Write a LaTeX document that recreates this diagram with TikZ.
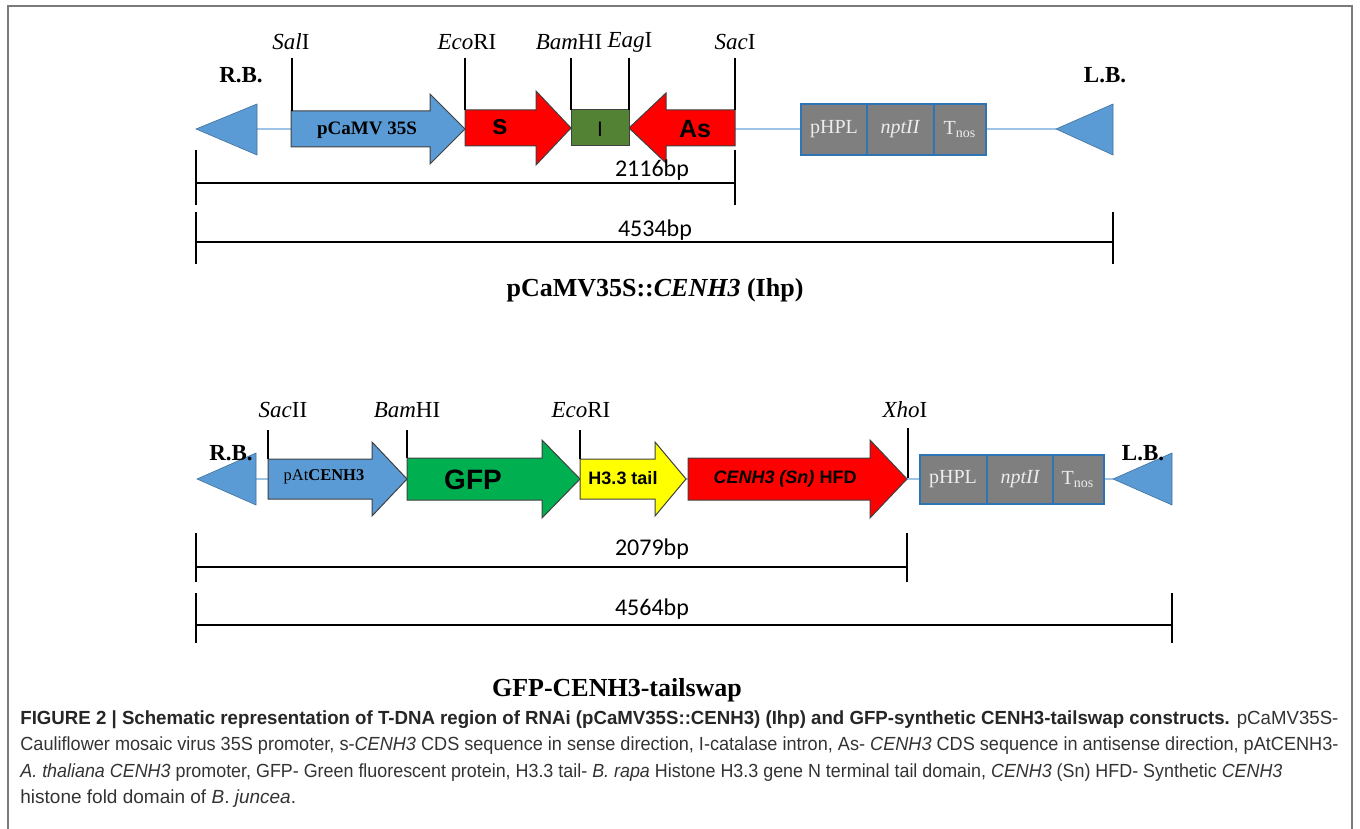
\documentclass[tikz,border=0pt]{standalone}
\usepackage{fontspec}
\usepackage{graphicx}
\setmainfont{Liberation Serif}
\setsansfont{Liberation Sans}
\newfontfamily\calib{Carlito}
\definecolor{tblue}{HTML}{5B9BD5}
\definecolor{tblueD}{HTML}{41719C}
\definecolor{bbone}{HTML}{9DC3E6}
\definecolor{tred}{HTML}{FF0000}
\definecolor{igreen}{HTML}{548235}
\definecolor{ggreen}{HTML}{00B050}
\definecolor{tyellow}{HTML}{FFFF00}
\definecolor{gfill}{HTML}{7F7F7F}
\definecolor{gborder}{HTML}{2E75B6}
\definecolor{captxt}{HTML}{333333}
\definecolor{framec}{HTML}{7A7A7A}
\newsavebox\capbox
\newcommand\fitline[2]{\sbox\capbox{#2}\ifdim\wd\capbox>#1\relax\resizebox{#1}{\ht\capbox}{\usebox\capbox}\else\makebox[#1][s]{#2}\fi}
\newcommand\rarrow[7]{\filldraw[#7] (#1,{#4-#5}) -- (#2,{#4-#5}) -- (#2,{#4-#6}) -- (#3,#4) -- (#2,{#4+#6}) -- (#2,{#4+#5}) -- (#1,{#4+#5}) -- cycle;}
\tikzset{
  site/.style={inner sep=0pt, font=\fontsize{11.5}{13}\selectfont},
  border/.style={inner sep=0pt, font=\fontsize{11.5}{13}\selectfont\bfseries},
  ticktick/.style={line width=1pt, black},
  barline/.style={line width=1pt, black},
  bplabel/.style={inner sep=0pt, font=\fontsize{12}{14}\selectfont\calib},
  ctitle/.style={inner sep=0pt, font=\fontsize{13}{15}\selectfont\bfseries},
  backbone/.style={line width=0.7pt, bbone},
  tri/.style={fill=tblue, draw=tblueD, line width=0.3pt},
  bluearr/.style={fill=tblue, draw=black!75, line width=0.5pt},
  redarr/.style={fill=tred, draw=black!75, line width=0.5pt},
  greenarr/.style={fill=ggreen, draw=black!75, line width=0.5pt},
  yellarr/.style={fill=tyellow, draw=black!75, line width=0.5pt},
  gbox/.style={fill=gfill, draw=gborder, line width=0.7pt},
  gtext/.style={inner sep=0pt, text=white!93!black, font=\fontsize{10}{12}\selectfont},
  inarrow/.style={inner sep=0pt, font=\fontsize{12.5}{14}\selectfont\sffamily\bfseries},
  capline/.style={inner sep=0pt, anchor=base west, text=captxt, font=\fontsize{9.5}{11}\selectfont\sffamily},
}
\begin{document}
\begin{tikzpicture}[x=0.5pt,y=-0.5pt]
\useasboundingbox (0,0) rectangle (1360,829);
% frame
\draw[framec, line width=1pt] (8,829) -- (8,6) -- (1352,6) -- (1352,829);

% ================= top construct =================
\draw[backbone] (257,129) -- (1056,129);
\fill[tri] (196,129) -- (257,104) -- (257,155) -- cycle;
\fill[tri] (1056,129) -- (1113,104) -- (1113,155) -- cycle;
\rarrow{291}{430}{465}{129}{18}{35}{bluearr}
\rarrow{465}{536}{571}{128}{18}{37}{redarr}
\filldraw[fill=igreen, draw=black!75, line width=0.5pt] (571,110) rectangle (629,146);
\rarrow{735}{666}{629}{128}{18}{35}{redarr}
\node[inner sep=0pt, font=\fontsize{9.5}{11}\selectfont\bfseries] (t35s) at (367,130) {pCaMV 35S};
\node[inner sep=0pt, font=\fontsize{14}{16}\selectfont\sffamily\bfseries] (ts) at (500,127) {s};
\node[inner sep=0pt, font=\fontsize{10.5}{12}\selectfont\sffamily] (tI) at (600,129) {I};
\node[inarrow] (tAs) at (695,129) {As};
% selectable marker boxes
\draw[gbox] (801,104) rectangle (867,155);
\draw[gbox] (867,104) rectangle (934,155);
\draw[gbox] (934,104) rectangle (986,155);
\node[gtext] (tp1) at (834,129) {pHPL};
\node[gtext] (tn1) at (900,129) {\itshape nptII};
\node[gtext] (tt1) at (960,130) {T\textsubscript{nos}};
% sites
\node[site] (sal) at (291,42) {\itshape Sal\upshape I};
\node[site] (eco1) at (467,42) {\itshape Eco\upshape RI};
\node[site] (bam1) at (569,42) {\itshape Bam\upshape HI};
\node[site] (eag) at (630,42) {\itshape Eag\upshape I};
\node[site] (sac) at (735,42) {\itshape Sac\upshape I};
\draw[ticktick] (292,58) -- (292,111);
\draw[ticktick] (465,58) -- (465,110);
\draw[ticktick] (571,58) -- (571,110);
\draw[ticktick] (629,58) -- (629,110);
\draw[ticktick] (735,58) -- (735,110);
\node[border] (rb1) at (241,75) {R.B.};
\node[border] (lb1) at (1105,75) {L.B.};
% scale bars
\draw[barline] (196,150) -- (196,205);
\draw[barline] (735,150) -- (735,205);
\draw[barline] (196,183) -- (735,183);
\node[bplabel] (bp1) at (652,170) {2116bp};
\draw[barline] (196,212) -- (196,264);
\draw[barline] (1113,212) -- (1113,264);
\draw[barline] (196,242) -- (1113,242);
\node[bplabel] (bp2) at (655,230) {4534bp};
\node[ctitle] (title1) at (655,290) {pCaMV35S::\textit{CENH3} (Ihp)};

% ================= bottom construct =================
\draw[backbone] (256,479) -- (1113,479);
\fill[tri] (197,479) -- (256,453) -- (256,505) -- cycle;
\fill[tri] (1113,479) -- (1172,453) -- (1172,505) -- cycle;
\rarrow{268}{372}{407}{479}{20}{37}{bluearr}
\rarrow{407}{542}{580}{479}{21}{39}{greenarr}
\rarrow{580}{655}{686}{479}{20}{37}{yellarr}
\rarrow{688}{870}{907}{479}{21}{39}{redarr}
\node[inner sep=0pt, font=\fontsize{8.25}{10}\selectfont] (tpat) at (324,477) {pAt\textbf{CENH3}};
\node[inner sep=0pt, font=\fontsize{14}{16}\selectfont\sffamily\bfseries] (tgfp) at (473,480) {GFP};
\node[inner sep=0pt, font=\fontsize{9}{11}\selectfont\sffamily\bfseries] (th33) at (623,478) {H3.3 tail};
\node[inner sep=0pt, font=\fontsize{9}{11}\selectfont\sffamily\bfseries] (tcen) at (785,479) {\itshape CENH3 (Sn)\upshape{} HFD};
\draw[gbox] (920,455) rectangle (987,504);
\draw[gbox] (987,455) rectangle (1053,504);
\draw[gbox] (1053,455) rectangle (1104,504);
\node[gtext] (tp2) at (953,479) {pHPL};
\node[gtext] (tn2) at (1020,479) {\itshape nptII};
\node[gtext] (tt2) at (1078,480) {T\textsubscript{nos}};
\node[site] (sac2) at (283,410) {\itshape Sac\upshape II};
\node[site] (bam2) at (407,410) {\itshape Bam\upshape HI};
\node[site] (eco2) at (581,410) {\itshape Eco\upshape RI};
\node[site] (xho) at (905,410) {\itshape Xho\upshape I};
\draw[ticktick] (268,430) -- (268,459);
\draw[ticktick] (407,430) -- (407,458);
\draw[ticktick] (580,430) -- (580,459);
\draw[ticktick] (908,428) -- (908,478);
\node[border] (rb2) at (231,453) {R.B.};
\node[border] (lb2) at (1143,453) {L.B.};
\draw[barline] (196,533) -- (196,582);
\draw[barline] (907,533) -- (907,582);
\draw[barline] (196,567) -- (907,567);
\node[bplabel] (bp3) at (652,549) {2079bp};
\draw[barline] (196,593) -- (196,643);
\draw[barline] (1172,593) -- (1172,643);
\draw[barline] (196,625) -- (1172,625);
\node[bplabel] (bp4) at (652,609) {4564bp};
\node[ctitle] (title2) at (617,690) {GFP-CENH3-tailswap};

% ================= caption =================
\node[capline] (cap1) at (20,724) {\fitline{659pt}{\textbf{\color{black!85}FIGURE 2 | Schematic representation of T-DNA region of RNAi (pCaMV35S::CENH3) (Ihp) and GFP-synthetic CENH3-tailswap constructs.} pCaMV35S-}};
\node[capline] (cap2) at (20,750) {\fitline{659pt}{Cauliflower mosaic virus 35S promoter, s-\textit{CENH3} CDS sequence in sense direction, I-catalase intron, As- \textit{CENH3} CDS sequence in antisense direction, pAtCENH3-}};
\node[capline] (cap3) at (20,777) {\fitline{631pt}{\textit{A. thaliana CENH3} promoter, GFP- Green fluorescent protein, H3.3 tail- \textit{B. rapa} Histone H3.3 gene N terminal tail domain, \textit{CENH3} (Sn) HFD- Synthetic \textit{CENH3}}};
\node[capline] (cap4) at (20,803) {histone fold domain of \textit{B}. \textit{juncea}.};
\end{tikzpicture}
\end{document}
